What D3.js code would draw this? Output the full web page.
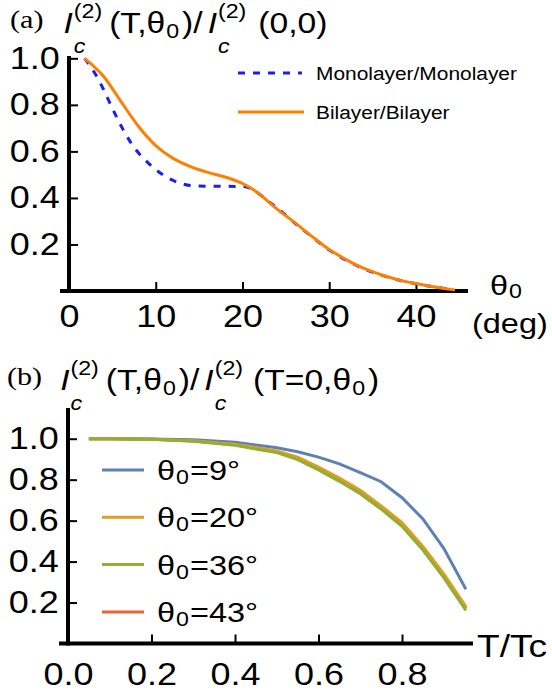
<!DOCTYPE html>
<html>
<head>
<meta charset="utf-8">
<script src="https://cdn.jsdelivr.net/npm/d3@7"></script>
<style>
  body { margin: 0; background: #fff; }
  svg { display: block; }
</style>
</head>
<body>
<div id="mainContainer"><svg></svg></div>
<script>
const SVG_WIDTH = 552;
const SVG_HEIGHT = 692;
const SX = 1.16; // text in the figure is a little wider than tall
const SANS = "Liberation Sans, Arial, sans-serif";
const SERIF = "Liberation Serif, Times New Roman, serif";

// panel (a): Ic(T,theta0)/Ic(0,0) against theta0 (deg)
const thetaMono = [1.8, 3, 4, 5, 6, 7, 8, 9, 10, 11, 12, 13, 14, 16, 18, 20, 21, 22, 23, 24, 26, 28, 30, 32, 34, 36, 38, 40, 42, 44];
const valMono = [1.0, 0.935, 0.865, 0.785, 0.71, 0.645, 0.594, 0.555, 0.522, 0.495, 0.475, 0.461, 0.453, 0.45, 0.45, 0.449, 0.44, 0.415, 0.385, 0.357, 0.293, 0.233, 0.176, 0.131, 0.095, 0.068, 0.047, 0.031, 0.018, 0.007];
const thetaBi = [1.8, 4, 6, 8, 10, 12, 14, 16, 18, 20, 21, 22, 23, 24, 26, 28, 30, 32, 34, 36, 38, 40, 42, 44, 44.5];
const valBi = [1.0, 0.922, 0.814, 0.708, 0.625, 0.57, 0.535, 0.51, 0.49, 0.462, 0.442, 0.415, 0.383, 0.352, 0.295, 0.235, 0.178, 0.134, 0.097, 0.07, 0.048, 0.032, 0.018, 0.007, 0.004];
const thetaTicks = [0, 10, 20, 30, 40];
const ratioTicksA = [0.2, 0.4, 0.6, 0.8, 1.0];

// panel (b): Ic(T,theta0)/Ic(T=0,theta0) against T/Tc
const tempT = [0.05, 0.1, 0.2, 0.3, 0.4, 0.5, 0.55, 0.6, 0.65, 0.7, 0.75, 0.8, 0.85, 0.9, 0.953];
const ic9 = [1.0, 1.0, 0.999, 0.995, 0.983, 0.956, 0.936, 0.91, 0.877, 0.835, 0.79, 0.712, 0.608, 0.465, 0.265];
const ic20 = [1.0, 1.0, 0.998, 0.99, 0.973, 0.94, 0.91, 0.862, 0.808, 0.748, 0.672, 0.59, 0.474, 0.34, 0.18];
const ic36 = [1.0, 1.0, 0.997, 0.988, 0.968, 0.932, 0.898, 0.848, 0.792, 0.731, 0.656, 0.572, 0.456, 0.322, 0.162];
const ic43 = [1.0, 1.0, 0.997, 0.989, 0.97, 0.935, 0.903, 0.854, 0.799, 0.739, 0.663, 0.58, 0.464, 0.331, 0.172];
const angleLabels = ["9°", "20°", "36°", "43°"];
const angleColors = ["#5e81b5", "#e19c24", "#8fb032", "#eb6235"];
const tTicks = [0.0, 0.2, 0.4, 0.6, 0.8];
const ratioTicksB = [0.2, 0.4, 0.6, 0.8, 1.0];

let svg = d3.select("#mainContainer").select("svg")
    .attr("width", SVG_WIDTH)
    .attr("height", SVG_HEIGHT);

// one piece of text, stretched like the original; returns its screen width
function put(g, x, y, p) {
    let sx = p.sx || SX;
    let t = g.append("text")
        .attr("transform", `translate(${x},${y}) scale(${sx},1)`)
        .attr("font-family", p.serif ? SERIF : SANS)
        .attr("font-size", p.size)
        .attr("font-style", p.italic ? "italic" : null)
        .attr("text-anchor", p.anchor || null)
        .attr("fill", "#000")
        .text(p.t);
    return t.node().getComputedTextLength() * sx;
}

// a row of text pieces, with stacked sub/superscripts
function mathLine(g, x0, y0, pieces) {
    let x = x0;
    for (const p of pieces) {
        if (p.stack) {
            x += d3.max(p.stack, q => put(g, x, y0 + (q.dy || 0), q));
        } else {
            x += put(g, x, y0 + (p.dy || 0), p);
        }
        x += p.gap || 0;
    }
}

function icPieces(gapAfter) {
    return [
        { t: "I", italic: true, size: 29, gap: 1 },
        { stack: [{ t: "(2)", size: 20, dy: -15 }, { t: "c", italic: true, size: 20, dy: 20 }], gap: gapAfter }
    ];
}

function drawAxes(x, y, xTicks, xMinor, yTicks, yMinor, xFmt, xPad) {
    let g = svg.append("g");
    let x0 = x.range()[0], x1 = x.range()[1];
    let y0 = y.range()[0], y1 = y.range()[1];

    let gx = g.append("g").attr("transform", `translate(0,${y0})`);
    gx.call(d3.axisBottom(x).tickValues(xMinor).tickSize(-5).tickFormat(""));
    gx.call(d3.axisBottom(x).tickValues(xTicks).tickSize(-9).tickPadding(xPad).tickFormat(xFmt));
    let gy = g.append("g").attr("transform", `translate(${x0},0)`);
    gy.call(d3.axisLeft(y).tickValues(yMinor).tickSize(-5).tickFormat(""));
    gy.call(d3.axisLeft(y).tickValues(yTicks).tickSize(-9).tickPadding(8).tickFormat(d3.format(".1f")));

    g.selectAll(".domain").remove();
    g.selectAll(".tick line").attr("stroke", "#000").attr("stroke-width", 2);
    g.selectAll(".tick text")
        .attr("font-family", SANS)
        .attr("font-size", 31)
        .attr("fill", "#000")
        .attr("transform", `scale(${SX},1)`);

    g.append("line")
        .attr("x1", x0 - 9).attr("x2", x1)
        .attr("y1", y0).attr("y2", y0)
        .attr("stroke", "#000").attr("stroke-width", 4);
    g.append("line")
        .attr("x1", x0).attr("x2", x0)
        .attr("y1", y1).attr("y2", y0 + 2)
        .attr("stroke", "#000").attr("stroke-width", 4);
}

// ---------- panel (a) ----------
const xA = d3.scaleLinear().domain([0, 46]).range([69, 468]);
const yA = d3.scaleLinear().domain([0, 1.01]).range([291, 56]);

drawAxes(xA, yA, thetaTicks, d3.range(0, 46, 2).filter(d => d % 10),
    ratioTicksA, d3.range(0.05, 1.01, 0.05), d3.format("d"), 14);

let lineA = d3.line().x(d => xA(d[0])).y(d => yA(d[1])).curve(d3.curveMonotoneX);

svg.append("path")
    .attr("d", lineA(d3.zip(thetaMono, valMono)))
    .attr("fill", "none").attr("stroke", "#1c1cf5")
    .attr("stroke-width", 3).attr("stroke-dasharray", "7,8");
svg.append("path")
    .attr("d", lineA(d3.zip(thetaBi, valBi)))
    .attr("fill", "none").attr("stroke", "#ff8000")
    .attr("stroke-width", 3);

// legend (a)
svg.append("line").attr("x1", 238).attr("x2", 302).attr("y1", 73).attr("y2", 73)
    .attr("stroke", "#1c1cf5").attr("stroke-width", 3).attr("stroke-dasharray", "7,8");
put(svg, 316, 80, { t: "Monolayer/Monolayer", size: 19, sx: 1.1 });
svg.append("line").attr("x1", 238).attr("x2", 304).attr("y1", 112).attr("y2", 112)
    .attr("stroke", "#ff8000").attr("stroke-width", 3);
put(svg, 316, 119, { t: "Bilayer/Bilayer", size: 19, sx: 1.1 });

// titles (a)
mathLine(svg, 10, 33, [
    { t: "(a)", serif: true, size: 26, dy: -5, gap: 20 },
    ...icPieces(7),
    { t: "(T,θ", size: 29, gap: 1 },
    { t: "0", size: 20, dy: 5, gap: 3 },
    { t: ")/", size: 29, gap: 5 },
    ...icPieces(12),
    { t: "(0,0)", size: 29 }
]);
mathLine(svg, 490, 295, [{ t: "θ", size: 28, gap: 1 }, { t: "0", size: 20, dy: 3 }]);
put(svg, 472, 333, { t: "(deg)", size: 28 });

// ---------- panel (b) ----------
const xB = d3.scaleLinear().domain([0, 0.97]).range([68, 473]);
const yB = d3.scaleLinear().domain([0, 1.15]).range([643.5, 408]);

drawAxes(xB, yB, tTicks, d3.range(0.05, 0.97, 0.05).filter(d => Math.round(d * 20) % 4),
    ratioTicksB, d3.range(0.05, 1.15, 0.05), d3.format(".1f"), 19);

let lineB = d3.line().x(d => xB(d[0])).y(d => yB(d[1]));
const seriesB = [ic9, ic20, ic36, ic43];
// 43 deg sits under the others
[3, 0, 1, 2].forEach(i => {
    svg.append("path")
        .attr("d", lineB(d3.zip(tempT, seriesB[i])))
        .attr("fill", "none").attr("stroke", angleColors[i])
        .attr("stroke-width", 3);
});

// legend (b)
angleLabels.forEach((lab, i) => {
    let ly = 470 + i * 47.3;
    svg.append("line").attr("x1", 102).attr("x2", 144).attr("y1", ly).attr("y2", ly)
        .attr("stroke", angleColors[i]).attr("stroke-width", 3);
    mathLine(svg, 157, ly + 10, [
        { t: "θ", size: 28, gap: 1 },
        { t: "0", size: 20, dy: 4, gap: 1 },
        { t: "=" + lab, size: 28 }
    ]);
});

mathLine(svg, 7, 390, [
    { t: "(b)", serif: true, size: 26, dy: -5, gap: 18 },
    ...icPieces(7),
    { t: "(T,θ", size: 29, gap: 1 },
    { t: "0", size: 20, dy: 5, gap: 3 },
    { t: ")/", size: 29, gap: 5 },
    ...icPieces(10),
    { t: "(T=0,θ", size: 29, gap: 1 },
    { t: "0", size: 20, dy: 5, gap: 3 },
    { t: ")", size: 29 }
]);
put(svg, 477, 657, { t: "T/Tc", size: 32 });
</script>
</body>
</html>
